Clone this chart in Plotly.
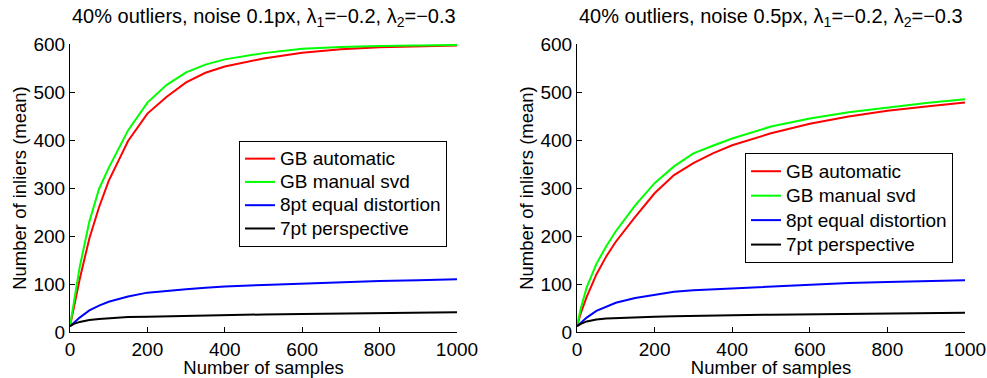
import plotly.graph_objects as go

# ---- data ----
samples = [0, 10, 25, 50, 75, 100, 150, 200, 250, 300, 350, 400, 500, 600, 700, 800, 900, 1000]

series_names = ["GB automatic", "GB manual svd", "8pt equal distortion", "7pt perspective"]
series_colors = ["#FF0000", "#00FF00", "#0000FF", "#000000"]

# left panel: noise 0.1px
left_gb_auto = [12, 50, 110, 195, 260, 315, 398, 455, 490, 520, 540, 553, 570, 582, 589, 593, 595, 597]
left_gb_svd = [12, 62, 135, 230, 298, 342, 420, 478, 515, 541, 557, 568, 581, 590, 594, 596, 597, 598]
left_8pt = [12, 20, 30, 45, 55, 63, 74, 82, 86, 89, 92, 95, 98, 101, 104, 106, 108, 110]
left_7pt = [12, 17, 21, 25, 27, 28.5, 31, 32, 33, 34, 35, 35.5, 36.5, 37.5, 38.5, 39.5, 40, 41]

# right panel: noise 0.5px
right_gb_auto = [12, 40, 73, 120, 157, 188, 240, 289, 327, 352, 372, 389, 414, 434, 449, 461, 470, 478]
right_gb_svd = [12, 50, 93, 142, 178, 210, 264, 310, 345, 372, 388, 403, 428, 445, 458, 468, 477, 485]
right_8pt = [12, 20, 30, 44, 53, 61, 71, 78, 84, 87, 89, 91, 95, 99, 102, 104, 106, 108]
right_7pt = [12, 17, 22, 26, 28, 29, 31, 32, 33, 34, 34.5, 35, 36, 37, 38, 39, 39.5, 40]

titles = [
    "40% outliers, noise 0.1px, λ<sub>1</sub>=−0.2, λ<sub>2</sub>=−0.3",
    "40% outliers, noise 0.5px, λ<sub>1</sub>=−0.2, λ<sub>2</sub>=−0.3",
]
x_ticks = [0, 200, 400, 600, 800, 1000]
y_ticks = [0, 100, 200, 300, 400, 500, 600]
x_label = "Number of samples"
y_label = "Number of inliers (mean)"

FONT = "Liberation Sans, Arial, sans-serif"
W, H = 987, 378
TICK_SIZE = 19
LEG_SIZE = 19
LABEL_SIZE = 18.5
TITLE_SIZE = 20

fig = go.Figure()

panels = [
    ([left_gb_auto, left_gb_svd, left_8pt, left_7pt], "x", "y", "legend"),
    ([right_gb_auto, right_gb_svd, right_8pt, right_7pt], "x2", "y2", "legend2"),
]
for vals, xa, ya, lg in panels:
    for name, color, v in zip(series_names, series_colors, vals):
        fig.add_trace(go.Scatter(
            x=samples, y=v, mode="lines",
            name=f'<span style="font-size:{LEG_SIZE}px">{name}</span>',
            line=dict(color=color, width=2),
            xaxis=xa, yaxis=ya, legend=lg,
        ))

axis_common = dict(
    showline=True, linecolor="black", linewidth=1, mirror=False,
    ticks="inside", ticklen=5, tickcolor="black", tickwidth=1,
    showgrid=False, zeroline=False, automargin=False,
    tickfont=dict(family=FONT, size=TICK_SIZE, color="black"),
)

x_dom = [[70 / W, 457 / W], [577 / W, 965 / W]]

fig.update_layout(
    width=W, height=H,
    margin=dict(l=0, r=0, t=44, b=46),
    paper_bgcolor="white", plot_bgcolor="white",
    font=dict(family=FONT, size=TICK_SIZE, color="black"),
    xaxis=dict(domain=x_dom[0], range=[0, 1000], tickvals=x_ticks, anchor="y",
               title=dict(text=x_label, standoff=3, font=dict(size=LABEL_SIZE)), **axis_common),
    yaxis=dict(domain=[0, 1], range=[0, 600], tickvals=y_ticks, anchor="x",
               title=dict(text=y_label, standoff=2, font=dict(size=LABEL_SIZE)), **axis_common),
    xaxis2=dict(domain=x_dom[1], range=[0, 1000], tickvals=x_ticks, anchor="y2",
                title=dict(text=x_label, standoff=3, font=dict(size=LABEL_SIZE)), **axis_common),
    yaxis2=dict(domain=[0, 1], range=[0, 600], tickvals=y_ticks, anchor="x2",
                title=dict(text=y_label, standoff=2, font=dict(size=LABEL_SIZE)), **axis_common),
    legend=dict(x=239 / W, y=(332 - 141) / 288, xanchor="left", yanchor="top",
                bgcolor="white", bordercolor="black", borderwidth=1,
                font=dict(family=FONT, size=15.6, color="black")),
    legend2=dict(x=745 / W, y=(332 - 153) / 288, xanchor="left", yanchor="top",
                 bgcolor="white", bordercolor="black", borderwidth=1,
                 font=dict(family=FONT, size=16.5, color="black")),
    showlegend=True,
)

for i, t in enumerate(titles):
    xc = (x_dom[i][0] + x_dom[i][1]) / 2
    fig.add_annotation(text=t, x=xc, y=1, xref="paper", yref="paper",
                       xanchor="center", yanchor="bottom", yshift=12, showarrow=False,
                       font=dict(family=FONT, size=TITLE_SIZE, color="black"))

fig.write_html("out.html", config={"displayModeBar": False},
               post_script="document.body.style.margin='0';")
